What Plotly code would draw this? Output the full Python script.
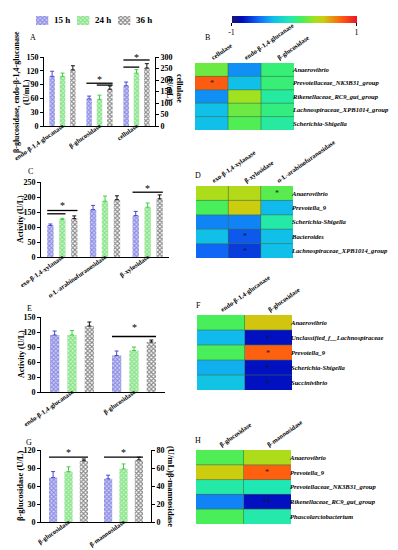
import plotly.graph_objects as go

W, H = 398, 550
FONT = "Liberation Serif"

# ---------------- data ----------------
times = ["15 h", "24 h", "36 h"]
time_fg = ["#4848d0", "#40d040", "#111111"]
time_bg = ["#d0d0f6", "#ccf5cc", "#ffffff"]

# Panel A (left axis: endo / beta-glucosidase, right axis: cellulase)
a_left_cats = ["endo-β-1,4-glucanase", "β-glucosidase"]
a_left_vals = [[108, 59], [108, 58], [122, 80]]
a_left_err = [[11, 6], [7, 9], [9, 7]]
a_right_cats = ["cellulase"]
a_right_vals = [[175], [230], [252]]
a_right_err = [[16], [15], [19]]

# Panel C
c_cats = ["exo-β-1,4-xylanase", "α-L-arabinofuranosidase", "β-xylosidase"]
c_vals = [[105, 158, 138], [125, 186, 166], [128, 191, 194]]
c_err = [[5, 14, 14], [4, 17, 14], [9, 13, 13]]

# Panel E
e_cats = ["endo-β-1,4-glucanase", "β-glucosidase"]
e_vals = [[114, 73], [114, 83], [132, 100]]
e_err = [[8, 9], [9, 7], [8, 4]]

# Panel G (left: beta-glucosidase U/L, right: beta-mannosidase U/mL)
g_left_cats = ["β-glucosidase"]
g_left_vals = [[74], [84], [102]]
g_left_err = [[10], [8], [3]]
g_right_cats = ["β-mannosidase"]
g_right_vals = [[48], [59], [69]]
g_right_err = [[4], [5.5], [3]]

# significance brackets: (category index, bar from, bar to, level)
a_sig_left = [(1, 0, 2, 93), (1, 1, 2, 89)]
a_star_left = [(1, 0, 2, 102)]
a_sig_right = [(2, 0, 2, 287), (2, 0, 1, 256)]
a_star_right = [(2, 0, 2, 300)]
c_sig = [(0, 0, 2, 155), (0, 0, 1, 144), (2, 0, 2, 216)]
c_star = [(0, 0, 2, 172), (2, 0, 2, 230)]
e_sig = [(1, 0, 2, 111)]
e_star = [(1, 0, 2, 129)]
g_sig_left = [(0, 0, 2, 108)]
g_star_left = [(0, 0, 2, 116)]
g_sig_right = [(1, 0, 2, 72)]
g_star_right = [(1, 0, 2, 77)]

# Heatmaps (correlation)
b_rows = ["Anaerovibrio", "Prevotellaceae_NK3B31_group", "Rikenellaceae_RC9_gut_group",
          "Lachnospiraceae_XPB1014_group", "Scherichia-Shigella"]
b_cols = ["cellulase", "endo-β-1,4-glucanase", "β-glucosidase"]
b_z = [[0.2, -0.47, 0.05], [0.76, -0.33, 0.05], [-0.47, 0.32, -0.04],
       [-0.33, 0.2, 0.03], [-0.33, 0.14, -0.04]]
b_sig = [["", "", ""], ["*", "", ""], ["", "", ""], ["", "", ""], ["", "", ""]]

d_rows = ["Anaerovibrio", "Prevotella_9", "Scherichia-Shigella", "Bacteroides",
          "Lachnospiraceae_XPB1014_group"]
d_cols = ["exo-β-1,4-xylanase", "β-xylosidase", "α-L-arabinofuranosidase"]
d_z = [[0.36, 0.38, 0.16], [0.12, 0.46, -0.35], [-0.5, -0.5, -0.05],
       [-0.33, -0.62, -0.33], [-0.58, -0.7, -0.33]]
d_sig = [["", "", "*"], ["", "", ""], ["", "", ""], ["", "*", ""], ["", "*", ""]]

f_rows = ["Anaerovibrio", "Unclassified_f__Lachnospiraceae", "Prevotella_9",
          "Scherichia-Shigella", "Succinivibrio"]
f_cols = ["endo-β-1,4-glucanase", "β-glucosidase"]
f_z = [[0.12, 0.48], [-0.35, -0.82], [0.12, 0.74], [-0.38, -0.82], [-0.3, -0.82]]
f_sig = [["", ""], ["", "*"], ["", "*"], ["", "*"], ["", "*"]]

h_rows = ["Anaerovibrio", "Prevotella_9", "Prevotellaceae_NK3B31_group",
          "Rikenellaceae_RC9_gut_group", "Phascolarctobacterium"]
h_cols = ["β-glucosidase", "β-mannosidase"]
h_z = [[0.14, 0.36], [0.46, 0.74], [-0.05, -0.08], [-0.5, -0.82], [0.12, -0.06]]
h_sig = [["", ""], ["", "*"], ["", ""], ["", "**"], ["", ""]]

CS = [[0.0, "rgb(25,25,112)"], [0.08, "rgb(0,10,190)"], [0.22, "rgb(16,110,250)"],
      [0.33, "rgb(16,190,235)"], [0.46, "rgb(32,232,180)"], [0.55, "rgb(64,240,96)"],
      [0.66, "rgb(160,226,32)"], [0.73, "rgb(205,205,16)"], [0.87, "rgb(255,96,16)"],
      [1.0, "rgb(235,20,40)"]]

# ---------------- helpers ----------------
def xd(a, b):
    return [a / W, b / W]

def yd(top, bottom):
    return [1 - bottom / H, 1 - top / H]

SLOT, BW = 0.28, 0.15
ANG = -35
fig = go.Figure()
shapes, annotations = [], []


def pattern(i):
    return dict(shape="x", fgcolor=time_fg[i], bgcolor=time_bg[i], size=3, solidity=0.6)


def add_bars(cats, vals, errs, xa, ya, bw=BW, slot=SLOT):
    for i, t in enumerate(times):
        off = -1.5 * slot + slot * i + (slot - bw) / 2
        fig.add_trace(go.Bar(
            x=cats, y=vals[i], width=bw, offset=off, xaxis=xa, yaxis=ya,
            name=t, showlegend=False,
            marker=dict(color=time_fg[i], line=dict(width=0), pattern=pattern(i)),
            error_y=dict(type="data", array=errs[i], arrayminus=[0] * len(cats),
                         symmetric=False, color=time_fg[i], thickness=1, width=2),
        ))


def bar_pos(cat, i, slot=SLOT):
    return cat - 1.5 * slot + slot * (i + 0.5)


def add_sig(sigs, stars, xa, ya, bw=BW, slot=SLOT):
    for cat, i0, i1, lev in sigs:
        shapes.append(dict(type="line", xref=xa, yref=ya,
                           x0=bar_pos(cat, i0, slot) - bw / 2, x1=bar_pos(cat, i1, slot) + bw / 2,
                           y0=lev, y1=lev, line=dict(color="black", width=1.3)))
    for cat, i0, i1, lev in stars:
        annotations.append(dict(xref=xa, yref=ya, x=(bar_pos(cat, i0, slot) + bar_pos(cat, i1, slot)) / 2,
                                y=lev, text="*", showarrow=False,
                                font=dict(family=FONT, size=10, color="black")))


tickf = dict(family=FONT, size=8, color="black", weight="bold")
xtickf = dict(family=FONT, size=6.5, color="black", weight="bold")


def bar_xaxis(dom, anchor, cats):
    return dict(domain=xd(*dom), anchor=anchor, type="category", categoryorder="array",
                categoryarray=cats, showline=True, linecolor="black", linewidth=1,
                ticks="", tickangle=ANG, tickfont=xtickf, showgrid=False, zeroline=False,
                automargin=False, range=[-0.5, len(cats) - 0.5], ticklabelstandoff=-7)


def bar_yaxis(dom, anchor, rng, dtick, side="left", overlaying=None):
    d = dict(domain=yd(*dom), anchor=anchor, range=rng, dtick=dtick, showline=True,
             linecolor="black", linewidth=1, ticks="outside", ticklen=3, tickwidth=1,
             tickcolor="black", tickfont=tickf, showgrid=False, zeroline=False,
             side=side, automargin=False)
    if overlaying:
        d["overlaying"] = overlaying
        d.pop("domain")
    return d


# ---------------- bar panels ----------------
add_bars(a_left_cats, a_left_vals, a_left_err, "x", "y")
add_bars(a_right_cats, a_right_vals, a_right_err, "x", "y2")
add_sig(a_sig_left, a_star_left, "x", "y")
add_sig(a_sig_right, a_star_right, "x", "y2")

add_bars(c_cats, c_vals, c_err, "x2", "y3")
add_sig(c_sig, c_star, "x2", "y3")

add_bars(e_cats, e_vals, e_err, "x3", "y4")
add_sig(e_sig, e_star, "x3", "y4")

add_bars(g_left_cats, g_left_vals, g_left_err, "x4", "y5")
add_bars(g_right_cats, g_right_vals, g_right_err, "x4", "y6")
add_sig(g_sig_left, g_star_left, "x4", "y5")
add_sig(g_sig_right, g_star_right, "x4", "y6")

# ---------------- legend key (small patterned swatches) ----------------
KEY_W = 0.3
for i, t in enumerate(times):
    fig.add_trace(go.Bar(x=[t], y=[1], width=KEY_W, offset=-0.5, xaxis="x9", yaxis="y11",
                         showlegend=False, hoverinfo="skip",
                         marker=dict(color=time_fg[i], line=dict(width=0), pattern=pattern(i))))
    annotations.append(dict(xref="x9", yref="y11", x=i - 0.5 + KEY_W + 0.08, y=0.5,
                            text=t, showarrow=False, xanchor="left", yanchor="middle",
                            font=dict(family=FONT, size=9, color="black", weight="bold")))

# ---------------- heatmaps ----------------
heat_specs = [
    (b_rows, b_cols, b_z, b_sig, "x5", "y7", (187, 286), (55, 122), True),
    (d_rows, d_cols, d_z, d_sig, "x6", "y8", (188, 285), (178, 250), False),
    (f_rows, f_cols, f_z, f_sig, "x7", "y9", (189, 284), (307, 382), False),
    (h_rows, h_cols, h_z, h_sig, "x8", "y10", (188, 283), (442, 516), False),
]
heat_axes = {}
for rows, cols, z, sig, xa, ya, xdom, ydom, scale in heat_specs:
    fig.add_trace(go.Heatmap(
        z=z, x=list(range(len(cols))), y=list(range(len(rows))), text=sig,
        texttemplate="%{text}", textfont=dict(family=FONT, size=8, color="#1a1a1a"),
        colorscale=CS, zmin=-1, zmax=1, xaxis=xa, yaxis=ya, showscale=scale,
        hoverinfo="skip",
        colorbar=dict(orientation="h", x=286 / W, xanchor="center", y=1 - 8 / H,
                      yanchor="top", lenmode="pixels", len=125, thickness=7,
                      tickvals=[-1, 1], ticktext=["-1", "1"], ticks="outside",
                      ticklabelposition="outside bottom", xpad=0, ypad=0,
                      ticklen=3, tickcolor="black", outlinewidth=0,
                      tickfont=dict(family=FONT, size=8, color="black")),
    ))
    heat_axes["xaxis" + xa[1:]] = dict(
        domain=xd(*xdom), anchor=ya, side="top", range=[-0.5, len(cols) - 0.5],
        tickvals=list(range(len(cols))), ticktext=cols, tickangle=ANG, ticks="",
        tickfont=dict(family=FONT, size=6.5, color="black", weight="bold"),
        showgrid=False, zeroline=False, showline=False, automargin=False)
    heat_axes["yaxis" + ya[1:]] = dict(
        domain=yd(*ydom), anchor=xa, side="right", range=[len(rows) - 0.5, -0.5],
        tickvals=list(range(len(rows))), ticktext=rows, ticks="", ticklabelstandoff=-2,
        tickfont=dict(family=FONT, size=6.6, color="black", weight="bold", style="italic"),
        showgrid=False, zeroline=False, showline=False, automargin=False)
    for k in range(len(cols) - 1):
        shapes.append(dict(type="line", xref=xa, yref=ya, x0=k + 0.5, x1=k + 0.5,
                           y0=-0.5, y1=len(rows) - 0.5,
                           line=dict(color="rgba(60,110,70,0.75)", width=0.8)))
    for r in range(len(rows) - 1):
        shapes.append(dict(type="line", xref=xa, yref=ya, x0=-0.5, x1=len(cols) - 0.5,
                           y0=r + 0.5, y1=r + 0.5,
                           line=dict(color="rgba(60,110,70,0.75)", width=0.8)))

# ---------------- text ----------------
def ann(px, py, text, size=8, angle=0, bold=False, xanchor="center"):
    annotations.append(dict(xref="paper", yref="paper", x=px / W, y=1 - py / H,
                            text=text, showarrow=False, textangle=angle,
                            xanchor=xanchor, yanchor="middle",
                            font=dict(family=FONT, size=size, color="black",
                                      weight="bold" if bold else "normal")))

for lab, px, py in [("A", 25, 29), ("B", 199, 29), ("C", 22, 164), ("D", 190, 167),
                    ("E", 21, 300), ("F", 190, 297), ("G", 21, 434), ("H", 190, 432)]:
    ann(px, py, lab, size=8)

ann(14, 84, "β-glucosidase, endo-β-1,4-glucanase<br>(U/mL)", size=8, angle=-90, bold=True)
ann(167, 80, "cellulase<br>(U/mL)", size=8, angle=90, bold=True)
ann(13, 211, "Activity (U/L)", size=8, angle=-90, bold=True)
ann(13, 346, "Activity (U/L)", size=8, angle=-90, bold=True)
ann(12, 478, "β-glucosidase (U/L)", size=8.5, angle=-90, bold=True)
ann(163, 478, "(U/mL)β-mannosidase", size=8.5, angle=90, bold=True)

layout = dict(
    width=W, height=H, margin=dict(l=0, r=0, t=0, b=0),
    paper_bgcolor="white", plot_bgcolor="rgba(0,0,0,0)",
    barmode="overlay", font=dict(family=FONT, color="black"),
    showlegend=False,
    xaxis=bar_xaxis((36, 147), "y", a_left_cats + a_right_cats),
    yaxis=bar_yaxis((49, 118), "x", [0, 150], 30),
    yaxis2=bar_yaxis((49, 118), "x", [0, 300], 50, side="right", overlaying="y"),
    xaxis2=bar_xaxis((33, 161), "y3", c_cats),
    yaxis3=bar_yaxis((174, 249), "x2", [0, 250], 50),
    xaxis3=bar_xaxis((33, 157), "y4", e_cats),
    yaxis4=bar_yaxis((309, 384), "x3", [0, 150], 30),
    xaxis4=bar_xaxis((33, 143), "y5", g_left_cats + g_right_cats),
    yaxis5=bar_yaxis((442, 514), "x4", [0, 120], 30),
    yaxis6=bar_yaxis((442, 514), "x4", [0, 80], 20, side="right", overlaying="y5"),
    xaxis9=dict(domain=xd(28, 151), anchor="y11", type="category", categoryorder="array",
                categoryarray=times, range=[-0.5, 2.5], visible=False),
    yaxis11=dict(domain=yd(8, 17), anchor="x9", range=[0, 1], visible=False),
    shapes=shapes, annotations=annotations,
)
layout.update(heat_axes)
fig.update_layout(**layout)
fig.write_html("out.html")
